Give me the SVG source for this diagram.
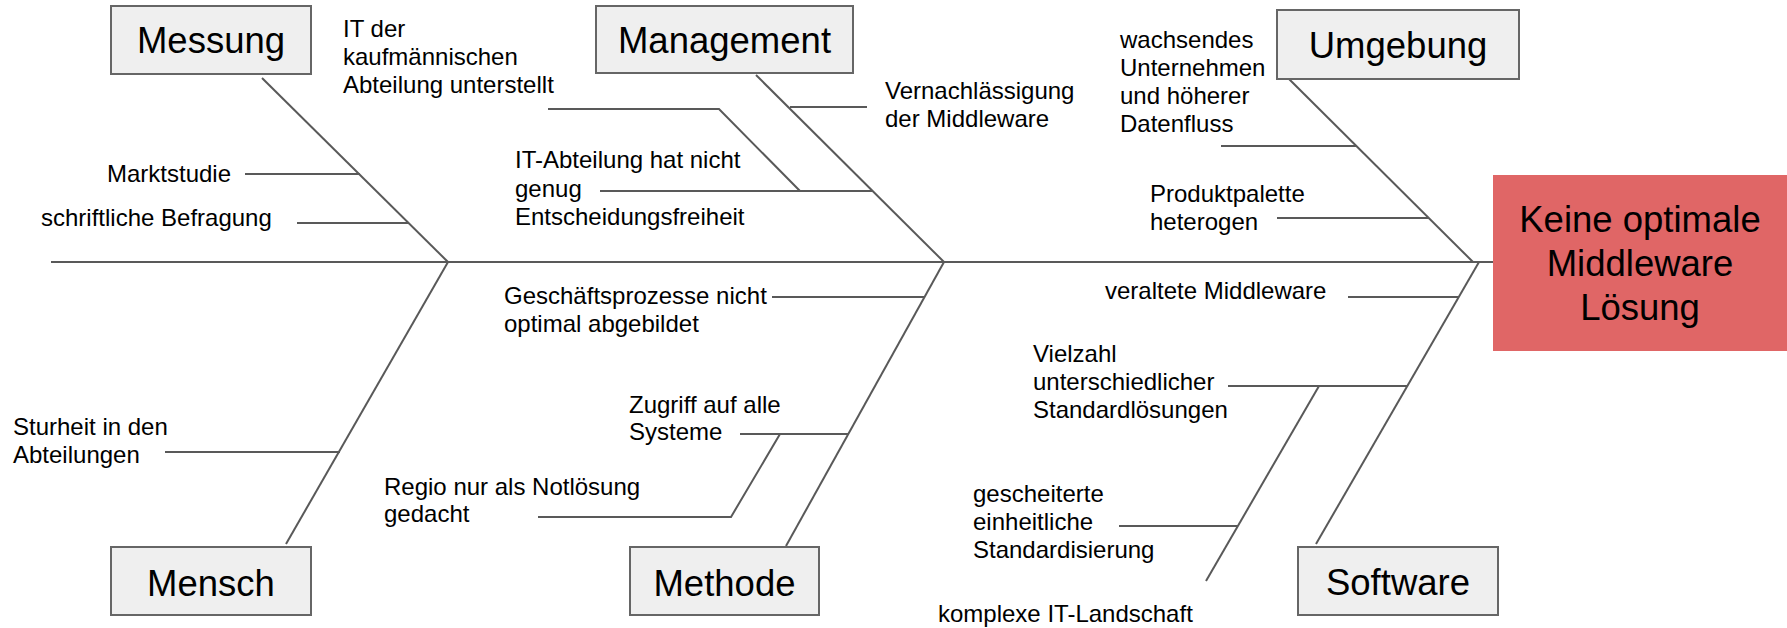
<svg xmlns="http://www.w3.org/2000/svg" width="1787" height="628" viewBox="0 0 1787 628">
<style>
.bg{fill:#ffffff}
.cat rect{fill:#efefef;stroke:#666666;stroke-width:2}
.cat text{font-family:"Liberation Sans",Arial,sans-serif;font-size:36.5px;fill:#000;text-anchor:middle}
.lbl{font-family:"Liberation Sans",Arial,sans-serif;font-size:24px;fill:#000}
.conn line,.conn polyline{stroke:#595959;stroke-width:2;fill:none}
.effect rect{fill:#e06666}
.effect text{font-family:"Liberation Sans",Arial,sans-serif;font-size:36.5px;fill:#000;text-anchor:middle}
</style>
<rect class="bg" x="0" y="0" width="1787" height="628"/>
<g id="connectors" class="conn">
<line x1="51" y1="262" x2="1493" y2="262"/>
<line x1="262" y1="78" x2="448" y2="262"/>
<line x1="756" y1="75" x2="944" y2="262"/>
<line x1="1289" y1="79" x2="1473" y2="262"/>
<line x1="448" y1="262" x2="286" y2="544"/>
<line x1="944" y1="262" x2="786" y2="546"/>
<line x1="1479" y1="262" x2="1316" y2="544"/>
<line x1="245" y1="174" x2="360" y2="174"/>
<line x1="297" y1="223" x2="408" y2="223"/>
<polyline points="548,109 719,109 800,191"/>
<line x1="600" y1="191" x2="872" y2="191"/>
<line x1="790" y1="107" x2="867" y2="107"/>
<line x1="1221" y1="146" x2="1356" y2="146"/>
<line x1="1277" y1="218" x2="1429" y2="218"/>
<line x1="772" y1="297" x2="925" y2="297"/>
<line x1="165" y1="452" x2="340" y2="452"/>
<polyline points="538,517 731,517 780,434"/>
<line x1="740" y1="434" x2="849" y2="434"/>
<line x1="1348" y1="297" x2="1459" y2="297"/>
<line x1="1228" y1="386" x2="1408" y2="386"/>
<line x1="1319" y1="386" x2="1206" y2="581"/>
<line x1="1119" y1="526" x2="1238" y2="526"/>
</g>
<g id="messung" class="cat"><rect x="111" y="6" width="200" height="68"/><text x="211" y="53">Messung</text></g>
<g id="management" class="cat"><rect x="596" y="6" width="257" height="67"/><text x="724.5" y="53">Management</text></g>
<g id="umgebung" class="cat"><rect x="1277" y="10" width="242" height="69"/><text x="1398" y="58">Umgebung</text></g>
<g id="mensch" class="cat"><rect x="111" y="547" width="200" height="68"/><text x="211" y="596">Mensch</text></g>
<g id="methode" class="cat"><rect x="630" y="547" width="189" height="68"/><text x="724.5" y="596">Methode</text></g>
<g id="software" class="cat"><rect x="1298" y="547" width="200" height="68"/><text x="1398" y="595">Software</text></g>
<g id="effect" class="effect"><rect x="1493" y="175" width="294" height="176"/>
<text x="1640" y="232">Keine optimale</text><text x="1640" y="276">Middleware</text><text x="1640" y="320">Lösung</text></g>
<g id="c-marktstudie"><text class="lbl" x="107" y="182">Marktstudie</text></g>
<g id="c-befragung"><text class="lbl" x="41" y="226">schriftliche Befragung</text></g>
<g id="c-itder"><text class="lbl" x="343" y="37">IT der</text><text class="lbl" x="343" y="65">kaufmännischen</text><text class="lbl" x="343" y="93">Abteilung unterstellt</text></g>
<g id="c-itabteilung"><text class="lbl" x="515" y="168">IT-Abteilung hat nicht</text><text class="lbl" x="515" y="197">genug</text><text class="lbl" x="515" y="225">Entscheidungsfreiheit</text></g>
<g id="c-vernach"><text class="lbl" x="885" y="99">Vernachlässigung</text><text class="lbl" x="885" y="127">der Middleware</text></g>
<g id="c-wachsendes"><text class="lbl" x="1120" y="48">wachsendes</text><text class="lbl" x="1120" y="76">Unternehmen</text><text class="lbl" x="1120" y="104">und höherer</text><text class="lbl" x="1120" y="132">Datenfluss</text></g>
<g id="c-produkt"><text class="lbl" x="1150" y="202">Produktpalette</text><text class="lbl" x="1150" y="230">heterogen</text></g>
<g id="c-geschaeft"><text class="lbl" x="504" y="304">Geschäftsprozesse nicht</text><text class="lbl" x="504" y="332">optimal abgebildet</text></g>
<g id="c-sturheit"><text class="lbl" x="13" y="435">Sturheit in den</text><text class="lbl" x="13" y="463">Abteilungen</text></g>
<g id="c-zugriff"><text class="lbl" x="629" y="413">Zugriff auf alle</text><text class="lbl" x="629" y="440">Systeme</text></g>
<g id="c-regio"><text class="lbl" x="384" y="495">Regio nur als Notlösung</text><text class="lbl" x="384" y="522">gedacht</text></g>
<g id="c-veraltet"><text class="lbl" x="1105" y="299">veraltete Middleware</text></g>
<g id="c-vielzahl"><text class="lbl" x="1033" y="362">Vielzahl</text><text class="lbl" x="1033" y="390">unterschiedlicher</text><text class="lbl" x="1033" y="418">Standardlösungen</text></g>
<g id="c-gescheitert"><text class="lbl" x="973" y="502">gescheiterte</text><text class="lbl" x="973" y="530">einheitliche</text><text class="lbl" x="973" y="558">Standardisierung</text></g>
<g id="c-komplex"><text class="lbl" x="938" y="622">komplexe IT-Landschaft</text></g>
</svg>
